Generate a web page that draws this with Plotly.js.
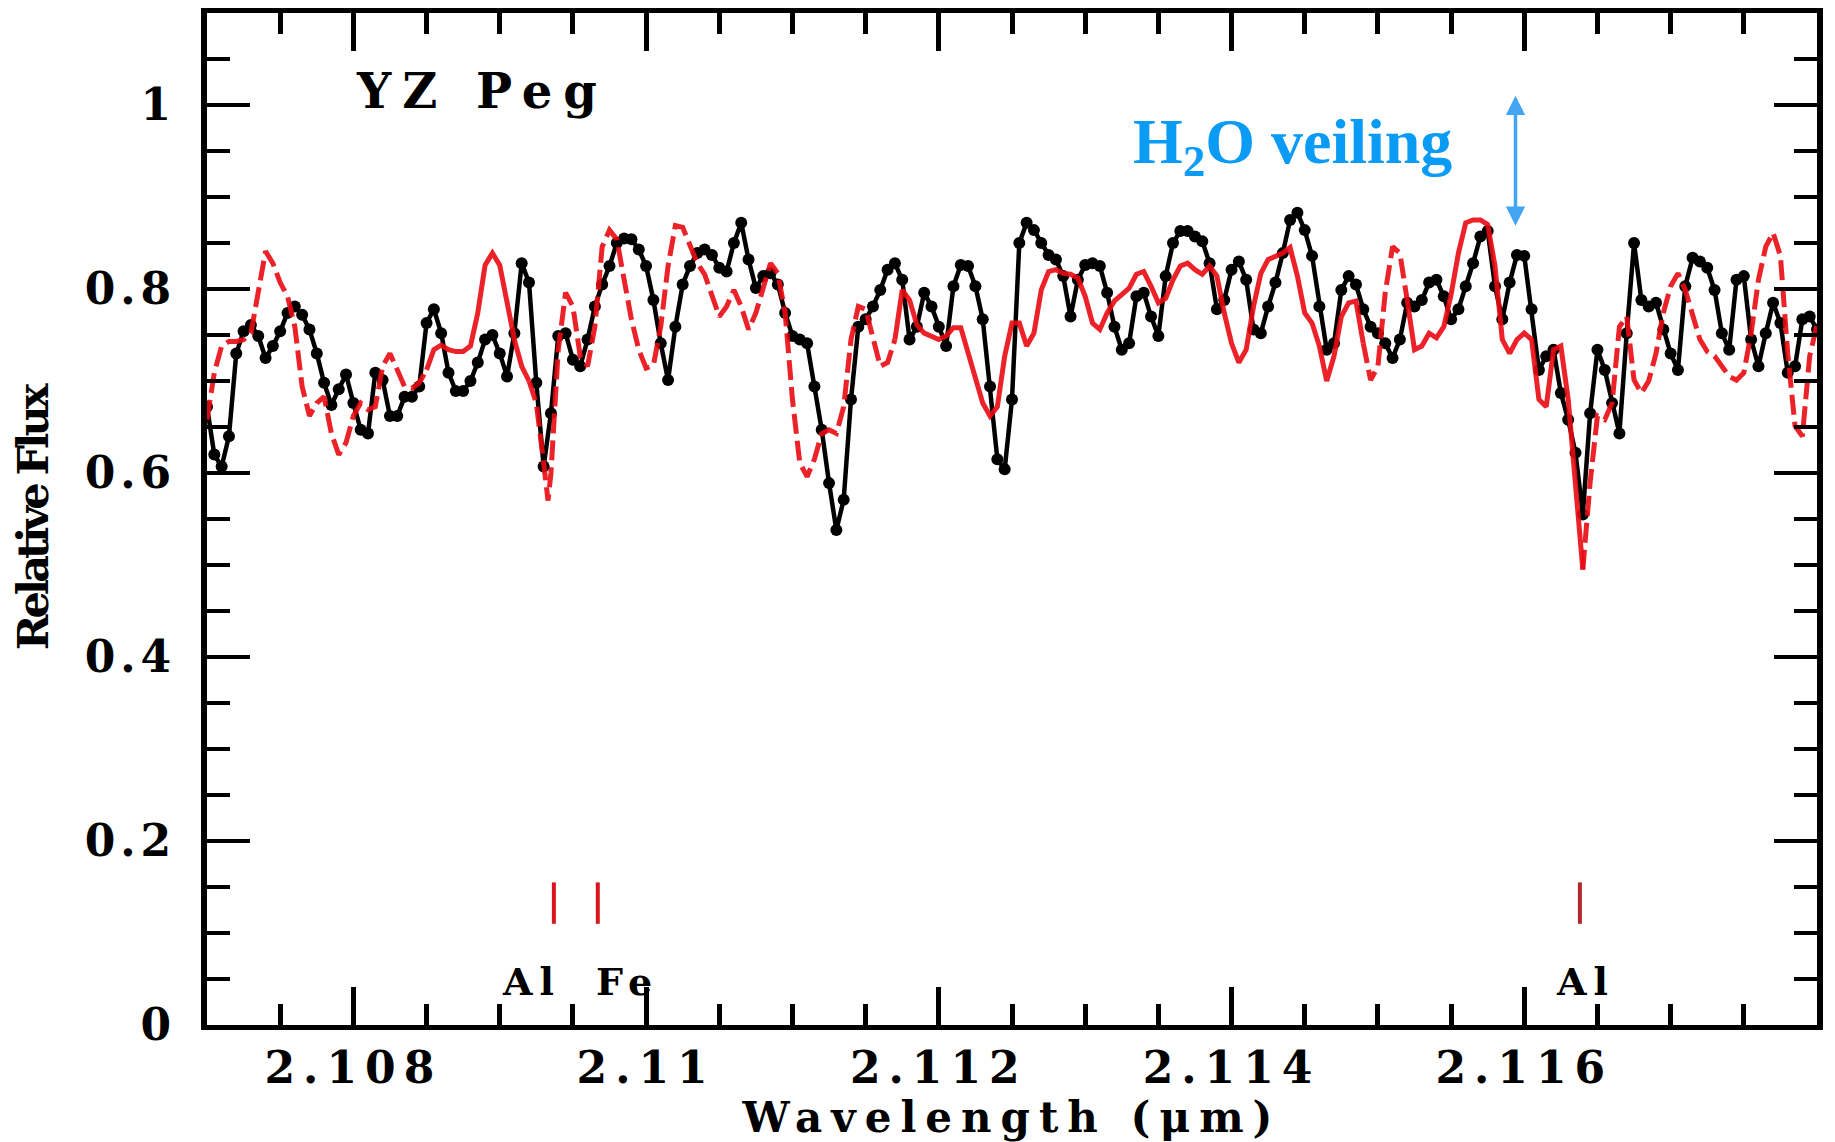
<!DOCTYPE html>
<html>
<head>
<meta charset="utf-8">
<script src="https://cdn.plot.ly/plotly-3.0.1.min.js"></script>
<style>
  html, body { margin: 0; padding: 0; background: #ffffff; }
  #chart { width: 1835px; height: 1142px; }
  /* wide, heavy lettering of the plotting package */
  #chart .xtick text { letter-spacing: 8px; }
  #chart .ytick text { letter-spacing: 5px; }
  #chart .g-xtitle text { letter-spacing: 9px; }
  #chart .g-ytitle text { letter-spacing: -4px; }
  #chart .annotation[data-index="0"] text { letter-spacing: 11px; }
  #chart .annotation[data-index="3"] text,
  #chart .annotation[data-index="4"] text,
  #chart .annotation[data-index="5"] text { letter-spacing: 7px; }
</style>
</head>
<body>
<div id="chart"></div>
<script>
// Observed spectrum of YZ Peg (black points)
const obsWave = [
  2.10700, 2.10705, 2.10710, 2.10715, 2.10720, 2.10725, 2.10730, 2.10735, 2.10740, 2.10745,
  2.10750, 2.10755, 2.10760, 2.10765, 2.10770, 2.10775, 2.10780, 2.10785, 2.10790, 2.10795,
  2.10800, 2.10805, 2.10810, 2.10815, 2.10820, 2.10825, 2.10830, 2.10835, 2.10840, 2.10845,
  2.10850, 2.10855, 2.10860, 2.10865, 2.10870, 2.10875, 2.10880, 2.10885, 2.10890, 2.10895,
  2.10900, 2.10905, 2.10910, 2.10915, 2.10920, 2.10925, 2.10930, 2.10935, 2.10940, 2.10945,
  2.10950, 2.10955, 2.10960, 2.10965, 2.10970, 2.10975, 2.10980, 2.10985, 2.10990, 2.10995,
  2.11000, 2.11005, 2.11010, 2.11015, 2.11020, 2.11025, 2.11030, 2.11035, 2.11040, 2.11045,
  2.11050, 2.11055, 2.11060, 2.11065, 2.11070, 2.11075, 2.11080, 2.11085, 2.11090, 2.11095,
  2.11100, 2.11105, 2.11110, 2.11115, 2.11120, 2.11125, 2.11130, 2.11135, 2.11140, 2.11145,
  2.11150, 2.11155, 2.11160, 2.11165, 2.11170, 2.11175, 2.11180, 2.11185, 2.11190, 2.11195,
  2.11200, 2.11205, 2.11210, 2.11215, 2.11220, 2.11225, 2.11230, 2.11235, 2.11240, 2.11245,
  2.11250, 2.11255, 2.11260, 2.11265, 2.11270, 2.11275, 2.11280, 2.11285, 2.11290, 2.11295,
  2.11300, 2.11305, 2.11310, 2.11315, 2.11320, 2.11325, 2.11330, 2.11335, 2.11340, 2.11345,
  2.11350, 2.11355, 2.11360, 2.11365, 2.11370, 2.11375, 2.11380, 2.11385, 2.11390, 2.11395,
  2.11400, 2.11405, 2.11410, 2.11415, 2.11420, 2.11425, 2.11430, 2.11435, 2.11440, 2.11445,
  2.11450, 2.11455, 2.11460, 2.11465, 2.11470, 2.11475, 2.11480, 2.11485, 2.11490, 2.11495,
  2.11500, 2.11505, 2.11510, 2.11515, 2.11520, 2.11525, 2.11530, 2.11535, 2.11540, 2.11545,
  2.11550, 2.11555, 2.11560, 2.11565, 2.11570, 2.11575, 2.11580, 2.11585, 2.11590, 2.11595,
  2.11600, 2.11605, 2.11610, 2.11615, 2.11620, 2.11625, 2.11630, 2.11635, 2.11640, 2.11645,
  2.11650, 2.11655, 2.11660, 2.11665, 2.11670, 2.11675, 2.11680, 2.11685, 2.11690, 2.11695,
  2.11700, 2.11705, 2.11710, 2.11715, 2.11720, 2.11725, 2.11730, 2.11735, 2.11740, 2.11745,
  2.11750, 2.11755, 2.11760, 2.11765, 2.11770, 2.11775, 2.11780, 2.11785, 2.11790, 2.11795,
  2.11800
];
const obsFlux = [
  0.672, 0.620, 0.607, 0.640, 0.730, 0.754, 0.761, 0.749, 0.725, 0.738,
  0.754, 0.774, 0.781, 0.772, 0.756, 0.730, 0.698, 0.674, 0.691, 0.707,
  0.676, 0.647, 0.643, 0.709, 0.701, 0.662, 0.662, 0.683, 0.683, 0.694,
  0.763, 0.778, 0.752, 0.709, 0.689, 0.689, 0.700, 0.720, 0.745, 0.750,
  0.730, 0.705, 0.752, 0.828, 0.807, 0.698, 0.607, 0.665, 0.749, 0.752,
  0.723, 0.716, 0.745, 0.781, 0.805, 0.825, 0.850, 0.855, 0.854, 0.843,
  0.825, 0.788, 0.741, 0.701, 0.759, 0.805, 0.825, 0.839, 0.843, 0.837,
  0.823, 0.819, 0.850, 0.872, 0.832, 0.801, 0.814, 0.817, 0.805, 0.774,
  0.749, 0.745, 0.741, 0.694, 0.647, 0.589, 0.538, 0.571, 0.680, 0.759,
  0.767, 0.781, 0.799, 0.821, 0.828, 0.810, 0.745, 0.759, 0.796, 0.781,
  0.759, 0.738, 0.803, 0.826, 0.825, 0.803, 0.767, 0.694, 0.615, 0.604,
  0.680, 0.850, 0.872, 0.864, 0.850, 0.837, 0.832, 0.814, 0.770, 0.810,
  0.826, 0.828, 0.825, 0.796, 0.759, 0.734, 0.741, 0.792, 0.796, 0.770,
  0.749, 0.814, 0.850, 0.863, 0.863, 0.857, 0.852, 0.828, 0.778, 0.788,
  0.821, 0.830, 0.810, 0.756, 0.752, 0.781, 0.807, 0.839, 0.875, 0.883,
  0.864, 0.836, 0.781, 0.734, 0.741, 0.799, 0.814, 0.805, 0.778, 0.759,
  0.752, 0.741, 0.725, 0.745, 0.785, 0.781, 0.788, 0.807, 0.810, 0.792,
  0.767, 0.778, 0.803, 0.828, 0.857, 0.863, 0.803, 0.767, 0.807, 0.837,
  0.836, 0.778, 0.712, 0.727, 0.734, 0.687, 0.658, 0.622, 0.555, 0.665,
  0.734, 0.712, 0.676, 0.643, 0.752, 0.850, 0.788, 0.781, 0.785, 0.756,
  0.730, 0.712, 0.803, 0.834, 0.830, 0.823, 0.799, 0.752, 0.734, 0.810,
  0.814, 0.745, 0.716, 0.752, 0.785, 0.763, 0.709, 0.716, 0.767, 0.770,
  0.756
];

// Synthetic model spectrum (red)
const modelWave = [
  2.10700, 2.10705, 2.10710, 2.10715, 2.10720, 2.10725, 2.10730, 2.10735, 2.10740, 2.10745,
  2.10750, 2.10755, 2.10760, 2.10765, 2.10770, 2.10775, 2.10780, 2.10785, 2.10790, 2.10795,
  2.10800, 2.10805, 2.10810, 2.10815, 2.10820, 2.10825, 2.10830, 2.10835, 2.10840, 2.10845,
  2.10850, 2.10855, 2.10860, 2.10865, 2.10870, 2.10875, 2.10880, 2.10885, 2.10890, 2.10895,
  2.10900, 2.10905, 2.10910, 2.10915, 2.10920, 2.10925, 2.10930, 2.10933, 2.10935, 2.10940,
  2.10945, 2.10950, 2.10955, 2.10960, 2.10965, 2.10970, 2.10975, 2.10980, 2.10985, 2.10990,
  2.10995, 2.11000, 2.11005, 2.11010, 2.11015, 2.11020, 2.11025, 2.11030, 2.11035, 2.11040,
  2.11045, 2.11050, 2.11055, 2.11060, 2.11065, 2.11070, 2.11075, 2.11080, 2.11085, 2.11090,
  2.11095, 2.11100, 2.11105, 2.11110, 2.11115, 2.11120, 2.11125, 2.11130, 2.11135, 2.11140,
  2.11145, 2.11150, 2.11155, 2.11160, 2.11165, 2.11170, 2.11175, 2.11180, 2.11185, 2.11190,
  2.11195, 2.11200, 2.11205, 2.11210, 2.11215, 2.11220, 2.11225, 2.11230, 2.11235, 2.11240,
  2.11245, 2.11250, 2.11255, 2.11260, 2.11265, 2.11270, 2.11275, 2.11280, 2.11285, 2.11290,
  2.11295, 2.11300, 2.11305, 2.11310, 2.11315, 2.11320, 2.11325, 2.11330, 2.11335, 2.11340,
  2.11345, 2.11350, 2.11355, 2.11360, 2.11365, 2.11370, 2.11375, 2.11380, 2.11385, 2.11390,
  2.11395, 2.11400, 2.11405, 2.11410, 2.11415, 2.11420, 2.11425, 2.11430, 2.11435, 2.11440,
  2.11445, 2.11450, 2.11455, 2.11460, 2.11465, 2.11470, 2.11475, 2.11480, 2.11485, 2.11490,
  2.11495, 2.11500, 2.11505, 2.11510, 2.11515, 2.11520, 2.11525, 2.11530, 2.11535, 2.11540,
  2.11545, 2.11550, 2.11555, 2.11560, 2.11565, 2.11570, 2.11575, 2.11580, 2.11585, 2.11590,
  2.11595, 2.11600, 2.11605, 2.11610, 2.11615, 2.11620, 2.11625, 2.11630, 2.11635, 2.11640,
  2.11645, 2.11650, 2.11655, 2.11660, 2.11665, 2.11670, 2.11675, 2.11680, 2.11685, 2.11690,
  2.11695, 2.11700, 2.11705, 2.11710, 2.11715, 2.11720, 2.11725, 2.11730, 2.11735, 2.11740,
  2.11745, 2.11750, 2.11755, 2.11760, 2.11765, 2.11770, 2.11775, 2.11780, 2.11785, 2.11790,
  2.11795, 2.11800
];
const modelFlux = [
  0.658, 0.709, 0.738, 0.743, 0.743, 0.745, 0.752, 0.796, 0.841, 0.828,
  0.807, 0.792, 0.759, 0.694, 0.662, 0.676, 0.683, 0.643, 0.620, 0.633,
  0.662, 0.676, 0.669, 0.672, 0.716, 0.730, 0.712, 0.694, 0.692, 0.698,
  0.712, 0.734, 0.739, 0.734, 0.732, 0.732, 0.738, 0.774, 0.826, 0.839,
  0.826, 0.788, 0.745, 0.716, 0.700, 0.676, 0.611, 0.570, 0.600, 0.734,
  0.796, 0.781, 0.727, 0.716, 0.759, 0.846, 0.864, 0.854, 0.810, 0.767,
  0.734, 0.714, 0.717, 0.759, 0.825, 0.869, 0.867, 0.849, 0.828, 0.816,
  0.794, 0.770, 0.781, 0.799, 0.781, 0.756, 0.774, 0.803, 0.828, 0.817,
  0.774, 0.680, 0.611, 0.596, 0.615, 0.643, 0.647, 0.643, 0.672, 0.745,
  0.781, 0.778, 0.745, 0.716, 0.720, 0.745, 0.799, 0.788, 0.761, 0.752,
  0.749, 0.745, 0.749, 0.758, 0.758, 0.730, 0.701, 0.676, 0.662, 0.672,
  0.727, 0.763, 0.763, 0.738, 0.752, 0.799, 0.819, 0.821, 0.817, 0.816,
  0.812, 0.792, 0.763, 0.756, 0.774, 0.787, 0.794, 0.801, 0.816, 0.819,
  0.803, 0.785, 0.790, 0.810, 0.825, 0.828, 0.821, 0.816, 0.825, 0.814,
  0.774, 0.741, 0.720, 0.734, 0.781, 0.817, 0.832, 0.836, 0.839, 0.845,
  0.814, 0.774, 0.763, 0.738, 0.700, 0.727, 0.770, 0.785, 0.787, 0.741,
  0.701, 0.716, 0.796, 0.846, 0.839, 0.788, 0.734, 0.738, 0.752, 0.747,
  0.759, 0.794, 0.839, 0.872, 0.875, 0.875, 0.870, 0.825, 0.745, 0.730,
  0.745, 0.752, 0.745, 0.680, 0.672, 0.734, 0.738, 0.680, 0.589, 0.495,
  0.590, 0.662, 0.658, 0.676, 0.759, 0.770, 0.701, 0.687, 0.700, 0.730,
  0.774, 0.803, 0.817, 0.799, 0.770, 0.745, 0.732, 0.727, 0.716, 0.705,
  0.701, 0.709, 0.752, 0.810, 0.846, 0.861, 0.836, 0.730, 0.651, 0.640,
  0.727, 0.761
];
// Wavelength intervals where the model is drawn solid (dashed elsewhere)
const modelSolidRanges = [[2.10850, 2.10920], [2.11170, 2.11490], [2.11520, 2.11640]];

// Identified atomic lines
const lineWave = [2.10937, 2.10967, 2.11638];
const lineName = ['Al', 'Fe', 'Al'];
const lineMarkLow = 0.11, lineMarkHigh = 0.155, lineLabelY = 0.047;

// Water veiling indicator
const veilWave = 2.11594, veilTop = 1.010, veilBottom = 0.867;

const serif = 'DejaVu Serif, serif';
const eps = 1e-9;
const inSolid = w => modelSolidRanges.some(r => w >= r[0] - eps && w <= r[1] + eps);
const insideSolid = w => modelSolidRanges.some(r => w > r[0] + eps && w < r[1] - eps);
const dashedFlux = modelFlux.map((f, i) => insideSolid(modelWave[i]) ? null : f);
const solidFlux = modelFlux.map((f, i) => inSolid(modelWave[i]) ? f : null);

const red = '#ea0a12';
const traces = [
  {
    x: obsWave, y: obsFlux, type: 'scatter', mode: 'lines+markers',
    line: {color: '#000000', width: 4.5},
    marker: {color: '#000000', size: 12, symbol: 'circle'},
    hoverinfo: 'x+y', name: 'YZ Peg'
  },
  {
    x: modelWave, y: dashedFlux, type: 'scatter', mode: 'lines', connectgaps: false,
    line: {color: red, width: 5, dash: '20px,7px'}, opacity: 0.9, name: 'model'
  },
  {
    x: modelWave, y: solidFlux, type: 'scatter', mode: 'lines', connectgaps: false,
    line: {color: red, width: 5}, opacity: 0.9, name: 'model'
  }
];

const markColors = ['#d8171d', '#d8171d', '#b0282c'];
const shapes = lineWave.map((w, i) => ({
  type: 'line', xref: 'x', yref: 'y', x0: w, x1: w, y0: lineMarkLow, y1: lineMarkHigh,
  line: {color: markColors[i], width: 4}
}));

const labelShift = [-22, 30, 6];
const annotations = [
  {text: 'YZ Peg', x: 2.10888, y: 1.015, xref: 'x', yref: 'y', showarrow: false,
   xanchor: 'center', yanchor: 'middle',
   font: {family: serif, size: 48, weight: 700, color: '#000000'}},
  {text: 'H<sub>2</sub>O veiling', x: 2.11331, y: 0.955, xref: 'x', yref: 'y', showarrow: false,
   xanchor: 'left', yanchor: 'middle',
   font: {family: 'Liberation Serif, Times New Roman, serif', size: 64, weight: 700, color: '#0a9bf5'}},
  {text: '', x: veilWave, y: veilTop, ax: veilWave, ay: veilBottom,
   xref: 'x', yref: 'y', axref: 'x', ayref: 'y', showarrow: true,
   arrowside: 'end+start', arrowhead: 2, arrowsize: 1.1, arrowwidth: 3.5, arrowcolor: '#42a5f3',
   standoff: 0, startstandoff: 0}
].concat(lineWave.map((w, i) => ({
  text: lineName[i], x: w, y: lineLabelY, xref: 'x', yref: 'y', showarrow: false,
  xshift: labelShift[i], xanchor: 'center', yanchor: 'middle',
  font: {family: serif, size: 38, weight: 700, color: '#000000'}
})));

const layout = {
  width: 1835, height: 1142,
  margin: {l: 207, r: 18, t: 13, b: 117, pad: 0},
  paper_bgcolor: '#ffffff', plot_bgcolor: '#ffffff',
  showlegend: false,
  xaxis: {
    range: [2.107, 2.118], tick0: 2.108, dtick: 0.002, tickformat: '.3~f',
    ticks: 'inside', ticklen: 38, tickwidth: 5, tickcolor: '#000000',
    showline: true, linewidth: 5, linecolor: '#000000', mirror: 'allticks',
    showgrid: false, zeroline: false, ticklabelstandoff: 0,
    minor: {tick0: 2.107, dtick: 0.0005, ticks: 'inside', ticklen: 21, tickwidth: 5, tickcolor: '#000000', showgrid: false},
    tickfont: {family: serif, size: 44, weight: 700, color: '#000000'},
    title: {text: 'Wavelength (\u03bcm)', standoff: 22,
            font: {family: serif, size: 42, weight: 700, color: '#000000'}}
  },
  yaxis: {
    range: [0, 1.1], tick0: 0, dtick: 0.2,
    ticks: 'inside', ticklen: 43, tickwidth: 4, tickcolor: '#000000',
    showline: true, linewidth: 6, linecolor: '#000000', mirror: 'allticks',
    showgrid: false, zeroline: false, ticklabelstandoff: 16,
    minor: {tick0: 0, dtick: 0.05, ticks: 'inside', ticklen: 23, tickwidth: 4, tickcolor: '#000000', showgrid: false},
    tickfont: {family: serif, size: 44, weight: 700, color: '#000000'},
    title: {text: 'Relative Flux', standoff: 40,
            font: {family: serif, size: 43, weight: 700, color: '#000000'}}
  },
  shapes: shapes,
  annotations: annotations
};

Plotly.newPlot('chart', traces, layout, {displayModeBar: false, staticPlot: true});
</script>
</body>
</html>
